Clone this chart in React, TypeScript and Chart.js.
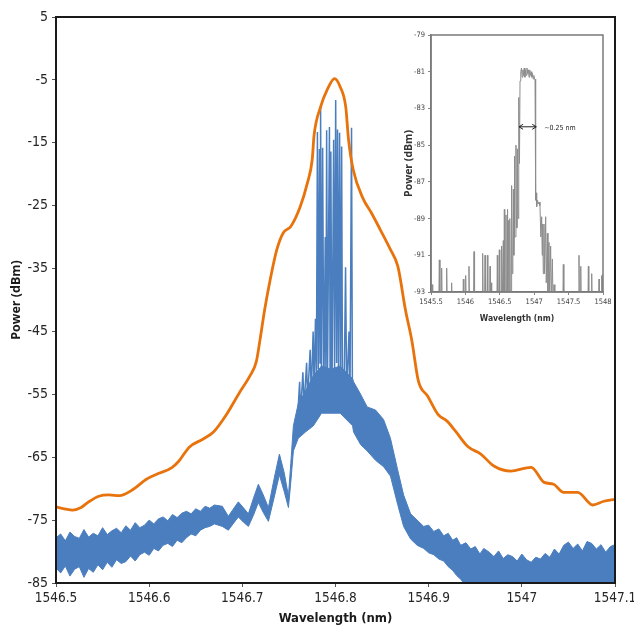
import React, { useEffect, useRef } from "react";
import { Chart, registerables } from "chart.js";

Chart.register(...registerables);

// ---------------- main chart data ----------------
const X_TICK_MIN = 1546.5;
const X_TICK_MAX = 1547.1;
const X_STEP = 0.1;
const Y_TICK_MIN = -85;
const Y_TICK_MAX = 5;
const Y_STEP = 10;

const orangeX = [
  1546.500, 1546.509, 1546.518, 1546.527, 1546.535, 1546.546, 1546.557, 1546.568, 1546.583, 1546.597,
  1546.608, 1546.624, 1546.632, 1546.643, 1546.658, 1546.669, 1546.683, 1546.697, 1546.708, 1546.715,
  1546.719, 1546.724, 1546.730, 1546.737, 1546.744, 1546.752, 1546.762, 1546.770, 1546.775, 1546.777,
  1546.784, 1546.791, 1546.799, 1546.805, 1546.811, 1546.814, 1546.819, 1546.830, 1546.838, 1546.848,
  1546.859, 1546.867, 1546.875, 1546.882, 1546.889, 1546.899, 1546.910, 1546.920, 1546.929, 1546.942,
  1546.956, 1546.970, 1546.988, 1547.010, 1547.024, 1547.034, 1547.045, 1547.060, 1547.076, 1547.088,
  1547.100,
];
const orangeY = [
  -72.9, -73.2, -73.4, -73.0, -72.1, -71.2, -71.0, -71.1, -70.1, -68.5,
  -67.7, -66.7, -65.6, -63.4, -62.1, -61.0, -58.2, -54.7, -52.1, -49.8,
  -46.3, -41.5, -36.7, -32.0, -29.3, -28.3, -25.2, -21.3, -17.7, -13.8,
  -9.3, -6.6, -4.8, -6.1, -9.3, -14.5, -19.3, -24.0, -26.0, -28.8,
  -32.0, -34.7, -41.5, -46.5, -52.9, -55.3, -58.2, -59.3, -60.9, -63.3,
  -64.5, -66.4, -67.2, -66.6, -69.0, -69.3, -70.6, -70.6, -72.6, -72.0,
  -71.7,
];

// noise band of the blue spectrum: upper and lower envelope
const bandX = [
  1546.500, 1546.505, 1546.510, 1546.515, 1546.520, 1546.525, 1546.530, 1546.535, 1546.540, 1546.545,
  1546.550, 1546.555, 1546.560, 1546.565, 1546.570, 1546.575, 1546.580, 1546.585, 1546.590, 1546.595,
  1546.600, 1546.605, 1546.610, 1546.615, 1546.620, 1546.625, 1546.630, 1546.635, 1546.640, 1546.645,
  1546.650, 1546.655, 1546.660, 1546.665, 1546.670, 1546.6785, 1546.685, 1546.690, 1546.6957, 1546.701,
  1546.7065, 1546.712, 1546.7172, 1546.7225, 1546.728, 1546.734, 1546.7398, 1546.745, 1546.7495, 1546.752,
  1546.7548, 1546.760, 1546.7677, 1546.7763, 1546.785, 1546.795, 1546.805, 1546.8183, 1546.8194, 1546.827,
  1546.834, 1546.843, 1546.8516, 1546.859, 1546.8667, 1546.8731, 1546.8806, 1546.8876, 1546.8946, 1546.900,
  1546.9054, 1546.911, 1546.9161, 1546.921, 1546.9258, 1546.930, 1546.9344, 1546.940, 1546.9452, 1546.950,
  1546.955, 1546.9591, 1546.965, 1546.970, 1546.975, 1546.980, 1546.985, 1546.990, 1546.995, 1547.000,
  1547.005, 1547.010, 1547.015, 1547.020, 1547.025, 1547.030, 1547.035, 1547.040, 1547.045, 1547.050,
  1547.055, 1547.060, 1547.065, 1547.070, 1547.075, 1547.080, 1547.085, 1547.090, 1547.095, 1547.100,
];
const bandU = [
  -77.8, -77.2, -78.3, -76.9, -77.6, -77.9, -76.5, -77.7, -77.1, -77.5,
  -76.2, -77.3, -76.7, -76.3, -77.0, -75.9, -76.6, -75.4, -76.2, -75.8,
  -75.0, -75.6, -74.8, -74.5, -75.1, -74.1, -74.6, -73.9, -73.6, -74.0,
  -73.2, -73.6, -72.8, -73.1, -72.6, -72.8, -74.4, -73.3, -72.1, -73.0,
  -74.0, -71.5, -69.3, -71.0, -73.0, -68.5, -64.5, -67.5, -71.2, -66.0,
  -60.0, -56.5, -54.5, -52.0, -50.5, -51.0, -50.5, -52.5, -53.0, -55.0,
  -57.0, -57.5, -59.0, -62.0, -67.0, -71.0, -74.0, -75.0, -76.0, -75.8,
  -76.8, -76.4, -77.5, -77.1, -78.2, -77.8, -79.0, -78.6, -79.6, -79.2,
  -80.4, -79.5, -80.1, -80.8, -79.9, -81.1, -80.5, -80.8, -81.5, -80.4,
  -81.3, -81.7, -80.9, -81.2, -80.3, -80.9, -79.6, -80.4, -79.0, -78.5,
  -79.5, -78.8, -79.9, -78.4, -78.7, -79.6, -78.9, -80.1, -79.2, -78.9,
];
const bandL = [
  -82.6, -83.4, -82.3, -83.9, -82.8, -82.4, -84.1, -82.7, -83.3, -82.1,
  -82.9, -81.7, -82.5, -81.3, -81.9, -81.6, -80.7, -81.5, -80.5, -80.1,
  -80.6, -79.5, -79.9, -79.0, -78.7, -79.2, -78.2, -78.6, -77.8, -77.2,
  -77.5, -76.6, -76.2, -76.0, -75.6, -76.0, -76.6, -75.6, -74.5, -75.3,
  -76.0, -74.2, -72.2, -73.8, -75.2, -71.5, -67.8, -70.5, -73.0, -69.0,
  -64.0, -62.0, -61.0, -60.0, -58.0, -58.0, -58.0, -60.0, -61.0, -63.0,
  -64.0, -65.5, -66.5, -68.0, -72.5, -76.0, -78.0, -79.0, -79.5, -80.2,
  -80.5, -81.2, -81.5, -82.4, -83.0, -83.8, -84.4, -85.5, -86.0, -86.0,
  -86.0, -86.0, -86.0, -86.0, -86.0, -86.0, -86.0, -86.0, -86.0, -86.0,
  -86.0, -86.0, -86.0, -86.0, -86.0, -86.0, -86.0, -86.0, -86.0, -86.0,
  -86.0, -86.0, -86.0, -86.0, -86.0, -86.0, -86.0, -86.0, -86.0, -86.0,
];

// central comb of narrow lines
const combX = [
  1546.7600, 1546.7615, 1546.7625, 1546.7650, 1546.7662, 1546.7690, 1546.7700, 1546.7728, 1546.7740, 1546.7760,
  1546.7770, 1546.7785, 1546.7795, 1546.7806, 1546.7815, 1546.7828, 1546.7834, 1546.7840, 1546.7850, 1546.7862,
  1546.7875, 1546.7890, 1546.7897, 1546.7905, 1546.7915, 1546.7935, 1546.7942, 1546.7950, 1546.7962, 1546.7980,
  1546.7990, 1546.8002, 1546.8012, 1546.8022, 1546.8032, 1546.8044, 1546.8054, 1546.8066, 1546.8076, 1546.8090,
  1546.8108, 1546.8120, 1546.8145, 1546.8155, 1546.8172, 1546.8182, 1546.8200,
];
const combY = [
  -57, -53, -58, -51.5, -57, -50, -56, -47.9, -55, -45,
  -54, -43, -52, -13.3, -51, -16, -50, -9.3, -53, -15.8,
  -55, -30, -52, -13.0, -51, -12.5, -54, -16.4, -56, -14.5,
  -52, -8.2, -50, -12.9, -51, -13.4, -53, -15.6, -58, -57.9,
  -34.8, -55, -45, -57, -12.6, -57, -54,
];

// ---------------- inset data ----------------
const INSET_X_MIN = 1545.5;
const INSET_X_MAX = 1548;
const INSET_X_STEP = 0.5;
const INSET_Y_MIN = -93;
const INSET_Y_MAX = -79;
const INSET_Y_STEP = 2;

const insetX = [
  1545.500, 1545.515, 1545.525, 1545.612, 1545.621, 1545.630, 1545.648, 1545.655, 1545.662, 1545.720,
  1545.728, 1545.736, 1545.792, 1545.800, 1545.808, 1545.962, 1545.970, 1545.978, 1545.996, 1546.004,
  1546.012, 1546.044, 1546.052, 1546.060, 1546.117, 1546.125, 1546.133, 1546.243, 1546.251, 1546.259,
  1546.278, 1546.285, 1546.292, 1546.312, 1546.319, 1546.326, 1546.351, 1546.358, 1546.365, 1546.375,
  1546.382, 1546.457, 1546.464, 1546.471, 1546.486, 1546.493, 1546.500, 1546.520, 1546.527, 1546.534,
  1546.545, 1546.551, 1546.558, 1546.561, 1546.566, 1546.572, 1546.585, 1546.590, 1546.596, 1546.605,
  1546.610, 1546.616, 1546.624, 1546.629, 1546.635, 1546.643, 1546.648, 1546.654, 1546.667, 1546.672,
  1546.679, 1546.690, 1546.697, 1546.704, 1546.708, 1546.711, 1546.718, 1546.730, 1546.735, 1546.742,
  1546.750, 1546.755, 1546.765, 1546.772, 1546.779, 1546.786, 1546.794, 1546.805, 1546.815, 1546.825,
  1546.835, 1546.845, 1546.855, 1546.865, 1546.875, 1546.885, 1546.895, 1546.905, 1546.915, 1546.925,
  1546.935, 1546.945, 1546.955, 1546.965, 1546.975, 1546.985, 1546.995, 1547.005, 1547.012, 1547.021,
  1547.030, 1547.036, 1547.048, 1547.060, 1547.072, 1547.084, 1547.096, 1547.109, 1547.116, 1547.123,
  1547.132, 1547.142, 1547.150, 1547.167, 1547.175, 1547.191, 1547.200, 1547.215, 1547.225, 1547.239,
  1547.250, 1547.264, 1547.275, 1547.288, 1547.300, 1547.415, 1547.423, 1547.431, 1547.643, 1547.651,
  1547.659, 1547.670, 1547.677, 1547.684, 1547.780, 1547.787, 1547.794, 1547.829, 1547.836, 1547.843,
  1547.935, 1547.942, 1547.949, 1547.974, 1547.981, 1547.988, 1548.000,
];
const insetY = [
  -92.7, -92.6, -94, -94, -91.25, -94, -94, -91.7, -94, -94,
  -91.7, -94, -94, -92.5, -94, -94, -92.3, -94, -94, -92.1,
  -94, -94, -91.6, -94, -94, -90.8, -94, -94, -90.9, -94,
  -94, -91.0, -94, -94, -91.0, -94, -94, -91.6, -94, -92.5,
  -94, -94, -91.0, -94, -94, -90.7, -94, -94, -90.5, -94,
  -94, -90.2, -94, -94, -88.5, -94, -94, -88.8, -94, -94,
  -88.5, -94, -94, -89.1, -94, -94, -89.0, -94, -93, -87.2,
  -92, -91, -87.4, -91, -90, -85.6, -90, -90, -85.0, -89.5,
  -89.5, -85.2, -89, -88, -82.4, -86, -81.5, -81.0, -80.8, -81.3,
  -80.9, -81.2, -80.8, -81.3, -80.9, -81.2, -80.8, -81.1, -80.9, -81.3,
  -80.9, -81.2, -81.0, -81.3, -81.1, -81.4, -81.2, -81.4, -81.4, -88.0,
  -87.6, -88.35, -88.0, -88.2, -88.1, -88.3, -90, -88.9, -91, -89.3,
  -92, -89.3, -92, -88.9, -92.5, -89.8, -93, -90.3, -93, -90.5,
  -93.5, -91.2, -94, -92.6, -94, -94, -91.5, -94, -94, -91.0,
  -94, -94, -91.6, -94, -94, -91.6, -94, -94, -92.0, -94,
  -94, -92.3, -94, -94, -92.1, -94, -92.0,
];

// FWHM annotation in the inset: arrow ends (nm), level (dBm), label
const annotX = [1546.78, 1547.03];
const annotY = [-84.0];
const annotText = ["~0.25 nm"];

// ---------------- styles ----------------
const ORANGE = "#E8730C";
const BLUE = "#4A7EBF";
const GRAY = "#8c8c8c";
const NARROW = "'Liberation Sans Narrow', 'DejaVu Sans Condensed', Roboto, sans-serif";

const pts = (xs: number[], ys: number[]) => xs.map((x, i) => ({ x, y: ys[i] }));
const fmt = (v: any) => String(Number(Number(v).toFixed(2)));

const framePlugin = {
  id: "frame",
  afterDraw(chart: any, _args: any, opts: any) {
    const { ctx, chartArea } = chart;
    const { left, top, right, bottom } = chartArea;
    ctx.save();
    ctx.strokeStyle = opts.color || "#000";
    ctx.lineWidth = opts.width || 1;
    ctx.strokeRect(left, top, right - left, bottom - top);
    ctx.restore();
  },
};

const annotPlugin = {
  id: "annot",
  afterDatasetsDraw(chart: any) {
    const { ctx, scales } = chart;
    const x1 = scales.x.getPixelForValue(annotX[0]);
    const x2 = scales.x.getPixelForValue(annotX[1]);
    const y = scales.y.getPixelForValue(annotY[0]);
    ctx.save();
    ctx.strokeStyle = "#222";
    ctx.fillStyle = "#222";
    ctx.lineWidth = 1;
    ctx.beginPath();
    ctx.moveTo(x1, y);
    ctx.lineTo(x2, y);
    ctx.moveTo(x1 + 4, y - 2.5);
    ctx.lineTo(x1, y);
    ctx.lineTo(x1 + 4, y + 2.5);
    ctx.moveTo(x2 - 4, y - 2.5);
    ctx.lineTo(x2, y);
    ctx.lineTo(x2 - 4, y + 2.5);
    ctx.stroke();
    ctx.font = "7px " + NARROW;
    ctx.textBaseline = "middle";
    ctx.fillText(annotText[0], x2 + 8, y + 1);
    ctx.restore();
  },
};

const noPadX = (h: number) => (s: any) => {
  s.height = h;
  s.paddingLeft = 0;
  s.paddingRight = 0;
};
const noPadY = (w: number) => (s: any) => {
  s.width = w;
  s.paddingTop = 0;
  s.paddingBottom = 0;
};

export default function App() {
  const mainRef = useRef<HTMLCanvasElement | null>(null);
  const insetRef = useRef<HTMLCanvasElement | null>(null);

  useEffect(() => {
    const main = new Chart(mainRef.current as HTMLCanvasElement, {
      type: "line",
      data: {
        datasets: [
          {
            label: "orange",
            data: pts(orangeX, orangeY),
            borderColor: ORANGE,
            borderWidth: 2.8,
            pointRadius: 0,
            cubicInterpolationMode: "monotone",
            fill: false,
          },
          {
            label: "bandU",
            data: pts(bandX, bandU),
            borderColor: BLUE,
            borderWidth: 1,
            pointRadius: 0,
            tension: 0,
            fill: false,
          },
          {
            label: "bandL",
            data: pts(bandX, bandL),
            borderColor: BLUE,
            backgroundColor: BLUE,
            borderWidth: 1,
            pointRadius: 0,
            tension: 0,
            fill: "-1",
          },
          {
            label: "comb",
            data: pts(combX, combY),
            borderColor: BLUE,
            borderWidth: 1.5,
            pointRadius: 0,
            tension: 0,
            fill: false,
          },
        ] as any,
      },
      options: {
        animation: false,
        responsive: false,
        maintainAspectRatio: false,
        events: [],
        layout: { padding: { top: 17, right: 19, left: 0, bottom: 0 } },
        plugins: {
          legend: { display: false },
          tooltip: { enabled: false },
          frame: { color: "#1a1a1a", width: 2 },
        } as any,
        scales: {
          x: {
            type: "linear",
            min: X_TICK_MIN,
            max: X_TICK_MAX,
            ticks: {
              stepSize: X_STEP,
              callback: fmt,
              font: { family: NARROW, size: 13.5 },
              color: "#262626",
              padding: 3,
              maxRotation: 0,
              autoSkip: false,
            },
            grid: { drawOnChartArea: false, tickLength: 4, color: "#555" },
            border: { color: "#1a1a1a", width: 2 },
            title: {
              display: true,
              text: "Wavelength (nm)",
              font: { family: NARROW, size: 13, weight: "bold" },
              color: "#1a1a1a",
              padding: { top: 0, bottom: 3 },
            },
            afterFit: noPadX(46),
          },
          y: {
            type: "linear",
            min: Y_TICK_MIN,
            max: Y_TICK_MAX,
            ticks: {
              stepSize: Y_STEP,
              callback: fmt,
              font: { family: NARROW, size: 14 },
              color: "#262626",
              padding: 4,
            },
            grid: { drawOnChartArea: false, tickLength: 4, color: "#555" },
            border: { color: "#1a1a1a", width: 2 },
            title: {
              display: true,
              text: "Power (dBm)",
              font: { family: "'Open Sans', sans-serif", size: 12.5, weight: "bold" },
              color: "#1a1a1a",
              padding: { top: 9, bottom: 0 },
            },
            afterFit: noPadY(56),
          },
        },
      } as any,
      plugins: [framePlugin],
    });

    const inset = new Chart(insetRef.current as HTMLCanvasElement, {
      type: "line",
      data: {
        datasets: [
          {
            label: "inset",
            data: pts(insetX, insetY),
            borderColor: GRAY,
            borderWidth: 1,
            pointRadius: 0,
            tension: 0,
            fill: false,
          },
        ] as any,
      },
      options: {
        animation: false,
        responsive: false,
        maintainAspectRatio: false,
        events: [],
        layout: { padding: { top: 10, right: 17, left: 0, bottom: 0 } },
        plugins: {
          legend: { display: false },
          tooltip: { enabled: false },
          frame: { color: "#7a7a7a", width: 1.5 },
        } as any,
        scales: {
          x: {
            type: "linear",
            min: INSET_X_MIN,
            max: INSET_X_MAX,
            ticks: {
              stepSize: INSET_X_STEP,
              callback: fmt,
              font: { family: NARROW, size: 7.5 },
              color: "#444",
              padding: 3,
              maxRotation: 0,
              autoSkip: false,
            },
            grid: { drawOnChartArea: false, tickLength: 3, color: "#888" },
            border: { color: "#7a7a7a", width: 1.5 },
            title: {
              display: true,
              text: "Wavelength (nm)",
              font: { family: NARROW, size: 8.5, weight: "bold" },
              color: "#333",
              padding: { top: 0, bottom: 6 },
            },
            afterFit: noPadX(38),
          },
          y: {
            type: "linear",
            min: INSET_Y_MIN,
            max: INSET_Y_MAX,
            ticks: {
              stepSize: INSET_Y_STEP,
              callback: fmt,
              font: { family: NARROW, size: 7.5 },
              color: "#444",
              padding: 3,
            },
            grid: { drawOnChartArea: false, tickLength: 3, color: "#888" },
            border: { color: "#7a7a7a", width: 1.5 },
            title: {
              display: true,
              text: "Power (dBm)",
              font: { family: "'Open Sans', sans-serif", size: 10.5, weight: "bold" },
              color: "#333",
              padding: { top: 8, bottom: 0 },
            },
            afterFit: noPadY(36),
          },
        },
      } as any,
      plugins: [framePlugin, annotPlugin],
    });

    return () => {
      main.destroy();
      inset.destroy();
    };
  }, []);

  return (
    <div style={{ position: "absolute", left: 0, top: 0, width: 634, height: 629, background: "#fff" }}>
      <canvas
        ref={mainRef}
        width={634}
        height={629}
        style={{ position: "absolute", left: 0, top: 0, width: 634, height: 629 }}
      />
      <canvas
        ref={insetRef}
        width={225}
        height={305}
        style={{ position: "absolute", left: 395, top: 25, width: 225, height: 305 }}
      />
    </div>
  );
}
